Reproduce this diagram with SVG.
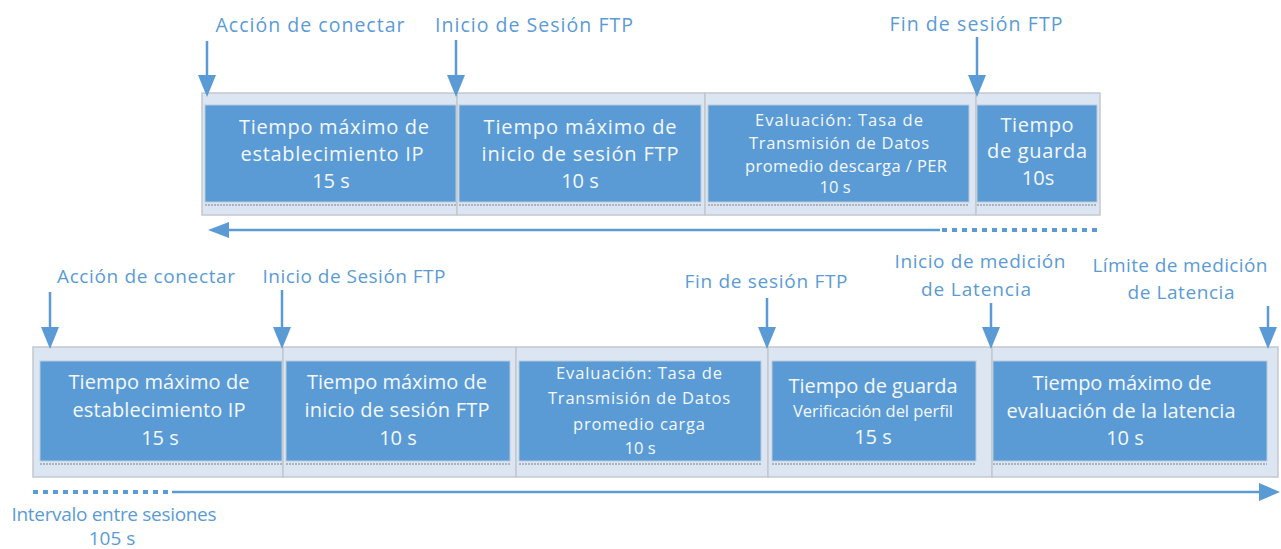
<svg xmlns="http://www.w3.org/2000/svg" width="1281" height="549" viewBox="0 0 1281 549">
<defs>
<style>
text{font-family:"Open Sans","Liberation Sans",sans-serif;text-anchor:middle}
.lbl{font-size:19.5px;fill:#5b9bd5}
.lbs{font-size:19px;fill:#5b9bd5}
.bt{font-size:20px;fill:#f4f8fc}
.bs{font-size:16.5px;fill:#f4f8fc}
.outer{fill:#dce6f2;stroke:#c3c8ce;stroke-width:1.5}
.inner{fill:#5b9bd5;stroke:#b9c9da;stroke-width:1}
.shadow{stroke:#a9b4bf;stroke-width:2;stroke-dasharray:2 1;fill:none}
.arr{stroke:#5b9bd5;stroke-width:2.5;fill:none}
.head{fill:#5b9bd5}
.dot{stroke:#5b9bd5;stroke-width:4;stroke-dasharray:5 5;fill:none}
</style>
</defs>

<!-- Top timeline -->
<g id="top-row">
  <g id="t1">
    <rect class="outer" x="202" y="93" width="255" height="122"/>
    <rect class="inner" x="205" y="105" width="251" height="97"/>
    <line class="shadow" x1="205" y1="205" x2="456" y2="205"/>
    <text class="bt" x="334" y="134" textLength="190" lengthAdjust="spacing">Tiempo máximo de</text>
    <text class="bt" x="332" y="161" textLength="183" lengthAdjust="spacing">establecimiento IP</text>
    <text class="bt" x="331" y="188">15 s</text>
  </g>
  <g id="t2">
    <rect class="outer" x="457" y="93" width="248" height="122"/>
    <rect class="inner" x="459" y="105" width="242" height="97"/>
    <line class="shadow" x1="459" y1="205" x2="701" y2="205"/>
    <text class="bt" x="580" y="134" textLength="193" lengthAdjust="spacing">Tiempo máximo de</text>
    <text class="bt" x="580" y="161" textLength="197" lengthAdjust="spacing">inicio de sesión FTP</text>
    <text class="bt" x="580" y="188">10 s</text>
  </g>
  <g id="t3">
    <rect class="outer" x="705" y="93" width="271" height="122"/>
    <rect class="inner" x="708" y="105" width="261" height="97"/>
    <line class="shadow" x1="708" y1="205" x2="969" y2="205"/>
    <text class="bs" x="839" y="126" textLength="168" lengthAdjust="spacing">Evaluación: Tasa de</text>
    <text class="bs" x="839" y="149" textLength="180" lengthAdjust="spacing">Transmisión de Datos</text>
    <text class="bs" x="846" y="172" textLength="202" lengthAdjust="spacing">promedio descarga / PER</text>
    <text class="bs" x="835" y="193">10 s</text>
  </g>
  <g id="t4">
    <rect class="outer" x="976" y="93" width="124" height="122"/>
    <rect class="inner" x="977" y="105" width="120" height="97"/>
    <line class="shadow" x1="977" y1="205" x2="1097" y2="205"/>
    <text class="bt" x="1037" y="132" textLength="73" lengthAdjust="spacing">Tiempo</text>
    <text class="bt" x="1037" y="158" textLength="100" lengthAdjust="spacing">de guarda</text>
    <text class="bt" x="1038" y="185">10s</text>
  </g>
</g>

<!-- Bottom timeline -->
<g id="bottom-row">
  <g id="b1">
    <rect class="outer" x="33" y="347" width="250" height="130"/>
    <rect class="inner" x="40" y="361" width="242" height="100"/>
    <line class="shadow" x1="40" y1="464" x2="282" y2="464"/>
    <text class="bt" x="159" y="389" textLength="181" lengthAdjust="spacing">Tiempo máximo de</text>
    <text class="bt" x="159" y="417" textLength="173" lengthAdjust="spacing">establecimiento IP</text>
    <text class="bt" x="160" y="445">15 s</text>
  </g>
  <g id="b2">
    <rect class="outer" x="283" y="347" width="233" height="130"/>
    <rect class="inner" x="286" y="361" width="224" height="100"/>
    <line class="shadow" x1="286" y1="464" x2="510" y2="464"/>
    <text class="bt" x="397" y="389" textLength="180" lengthAdjust="spacing">Tiempo máximo de</text>
    <text class="bt" x="397" y="417" textLength="185" lengthAdjust="spacing">inicio de sesión FTP</text>
    <text class="bt" x="398" y="445">10 s</text>
  </g>
  <g id="b3">
    <rect class="outer" x="516" y="347" width="252" height="130"/>
    <rect class="inner" x="519" y="361" width="242" height="100"/>
    <line class="shadow" x1="519" y1="464" x2="761" y2="464"/>
    <text class="bs" x="639" y="379" textLength="166" lengthAdjust="spacing">Evaluación: Tasa de</text>
    <text class="bs" x="639" y="404" textLength="182" lengthAdjust="spacing">Transmisión de Datos</text>
    <text class="bs" x="639" y="430" textLength="132" lengthAdjust="spacing">promedio carga</text>
    <text class="bs" x="640" y="454">10 s</text>
  </g>
  <g id="b4">
    <rect class="outer" x="768" y="347" width="224" height="130"/>
    <rect class="inner" x="772" y="361" width="204" height="100"/>
    <line class="shadow" x1="772" y1="464" x2="976" y2="464"/>
    <text class="bt" x="873" y="393" textLength="169" lengthAdjust="spacing">Tiempo de guarda</text>
    <text class="bs" x="873" y="417" textLength="160" lengthAdjust="spacing">Verificación del perfil</text>
    <text class="bt" x="873" y="444">15 s</text>
  </g>
  <g id="b5">
    <rect class="outer" x="992" y="347" width="286" height="130"/>
    <rect class="inner" x="993" y="361" width="274" height="100"/>
    <line class="shadow" x1="993" y1="464" x2="1267" y2="464"/>
    <text class="bt" x="1122" y="390" textLength="179" lengthAdjust="spacing">Tiempo máximo de</text>
    <text class="bt" x="1121" y="418" textLength="229" lengthAdjust="spacing">evaluación de la latencia</text>
    <text class="bt" x="1125" y="445">10 s</text>
  </g>
</g>

<!-- Labels -->
<g id="labels">
  <text class="lbl" x="310" y="32" textLength="189" lengthAdjust="spacing">Acción de conectar</text>
  <text class="lbl" x="534" y="32" textLength="198" lengthAdjust="spacing">Inicio de Sesión FTP</text>
  <text class="lbl" x="976" y="31" textLength="173" lengthAdjust="spacing">Fin de sesión FTP</text>
  <text class="lbs" x="146" y="283" textLength="178" lengthAdjust="spacing">Acción de conectar</text>
  <text class="lbs" x="354" y="283" textLength="183" lengthAdjust="spacing">Inicio de Sesión FTP</text>
  <text class="lbs" x="766" y="288" textLength="163" lengthAdjust="spacing">Fin de sesión FTP</text>
  <text class="lbs" x="980" y="268" textLength="171" lengthAdjust="spacing">Inicio de medición</text>
  <text class="lbs" x="976" y="296" textLength="110" lengthAdjust="spacing">de Latencia</text>
  <text class="lbs" x="1180" y="272" textLength="175" lengthAdjust="spacing">Límite de medición</text>
  <text class="lbs" x="1181" y="299" textLength="107" lengthAdjust="spacing">de Latencia</text>
  <text class="lbs" x="114" y="521" textLength="205" lengthAdjust="spacing">Intervalo entre sesiones</text>
  <text class="lbs" x="112" y="545">105 s</text>
</g>

<!-- Connectors -->
<g id="connectors">
  <!-- top down arrows -->
  <line class="arr" x1="207" y1="41" x2="207" y2="76"/>
  <polygon class="head" points="198,75 216,75 207,97"/>
  <line class="arr" x1="456" y1="40" x2="456" y2="76"/>
  <polygon class="head" points="447,75 465,75 456,97"/>
  <line class="arr" x1="977" y1="37" x2="977" y2="76"/>
  <polygon class="head" points="968,75 986,75 977,97"/>
  <!-- top timeline arrow (leftwards) -->
  <line class="arr" x1="226" y1="230" x2="940" y2="230"/>
  <polygon class="head" points="208,230 229,222 229,238"/>
  <line class="dot" x1="942" y1="230" x2="1100" y2="230"/>
  <!-- bottom down arrows -->
  <line class="arr" x1="50" y1="292" x2="50" y2="328"/>
  <polygon class="head" points="41,327 59,327 50,349"/>
  <line class="arr" x1="282" y1="290" x2="282" y2="328"/>
  <polygon class="head" points="273,327 291,327 282,349"/>
  <line class="arr" x1="767" y1="298" x2="767" y2="328"/>
  <polygon class="head" points="758,327 776,327 767,349"/>
  <line class="arr" x1="991" y1="303" x2="991" y2="328"/>
  <polygon class="head" points="982,327 1000,327 991,349"/>
  <line class="arr" x1="1268" y1="306" x2="1268" y2="328"/>
  <polygon class="head" points="1259,327 1277,327 1268,349"/>
  <!-- bottom timeline arrow (rightwards) -->
  <line class="dot" x1="33" y1="492" x2="172" y2="492"/>
  <line class="arr" x1="172" y1="492" x2="1262" y2="492"/>
  <polygon class="head" points="1280,492 1259,483 1259,501"/>
</g>
</svg>
